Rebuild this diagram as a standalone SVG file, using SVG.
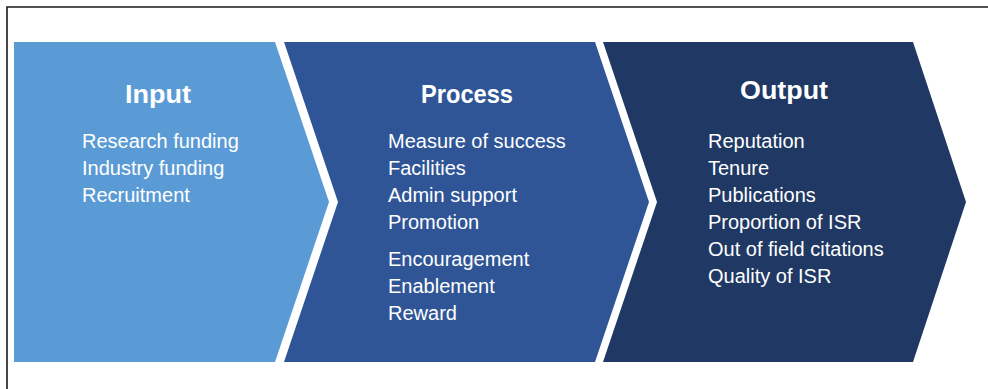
<svg xmlns="http://www.w3.org/2000/svg" width="988" height="389" viewBox="0 0 988 389">
<style>
.t{font-family:"Liberation Sans",Arial,sans-serif;font-weight:bold;font-size:26px;fill:#fff;text-anchor:middle}
.b{font-family:"Liberation Sans",Arial,sans-serif;font-size:20px;fill:#fff}
</style>
<rect width="988" height="389" fill="#fff"/>
<path d="M7,389 V7 H988" fill="none" stroke="#1a1a1a" stroke-width="1.6"/>
<g id="input">
<polygon points="14,42 275,42 329,202 275,362 14,362" fill="#5B9BD5"/>
<text class="t" x="158" y="103" textLength="66" lengthAdjust="spacingAndGlyphs">Input</text>
<text class="b" x="82" y="148">Research funding</text>
<text class="b" x="82" y="175">Industry funding</text>
<text class="b" x="82" y="202">Recruitment</text>
</g>
<g id="process">
<polygon points="284,42 595,42 649,202 595,362 284,362 338,202" fill="#2F5597"/>
<text class="t" x="467" y="103" textLength="92" lengthAdjust="spacingAndGlyphs">Process</text>
<text class="b" x="388" y="148">Measure of success</text>
<text class="b" x="388" y="175">Facilities</text>
<text class="b" x="388" y="202">Admin support</text>
<text class="b" x="388" y="229">Promotion</text>
<text class="b" x="388" y="266">Encouragement</text>
<text class="b" x="388" y="293">Enablement</text>
<text class="b" x="388" y="320">Reward</text>
</g>
<g id="output">
<polygon points="603,42 913,42 966,202 913,362 603,362 657,202" fill="#203864"/>
<text class="t" x="784" y="99" textLength="88" lengthAdjust="spacingAndGlyphs">Output</text>
<text class="b" x="708" y="148">Reputation</text>
<text class="b" x="708" y="175">Tenure</text>
<text class="b" x="708" y="202">Publications</text>
<text class="b" x="708" y="229">Proportion of ISR</text>
<text class="b" x="708" y="256">Out of field citations</text>
<text class="b" x="708" y="283">Quality of ISR</text>
</g>
<g id="connectors"></g>
</svg>
